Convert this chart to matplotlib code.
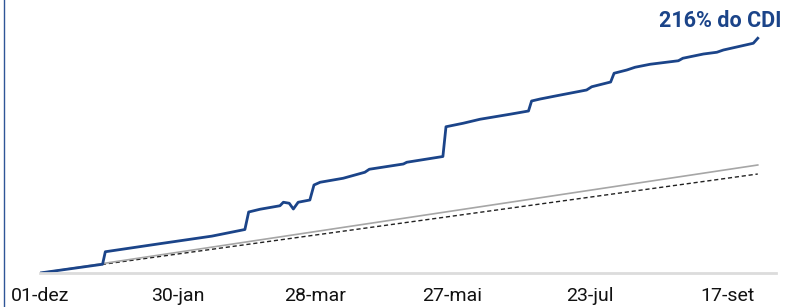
import matplotlib
matplotlib.use("Agg")
import matplotlib.pyplot as plt
from matplotlib.lines import Line2D

plt.rcParams["font.family"] = ["Roboto", "DejaVu Sans"]

# eixo x em dias úteis desde 01-dez, rótulos a cada 40 pregões
tick_pos = [0, 40, 80, 120, 160, 200]
tick_labels = ["01-dez", "30-jan", "28-mar", "27-mai", "23-jul", "17-set"]

# fundo (rentabilidade acumulada, %)
fundo_x = [0, 18.2, 19.0, 35.0, 50.0, 59.6, 60.7, 64.0, 69.8, 70.8, 72.5, 73.7,
           75.1, 78.5, 79.7, 81.5, 88.2, 94.5, 95.8, 105.7, 106.7, 117.2, 118.1,
           123.1, 128.0, 136.7, 142.1, 143.0, 145.5, 150.3, 159.0, 160.5, 166.0,
           167.0, 170.7, 173.1, 177.5, 185.7, 187.0, 193.0, 196.9, 198.8, 207.5,
           208.8]
fundo_y = [0, 0.70, 1.70, 2.35, 2.95, 3.48, 4.88, 5.10, 5.38, 5.66, 5.58, 5.12,
           5.66, 5.84, 7.04, 7.26, 7.58, 8.06, 8.30, 8.72, 8.86, 9.32, 11.70,
           11.98, 12.30, 12.70, 12.96, 13.76, 13.92, 14.18, 14.64, 14.90, 15.28,
           15.98, 16.24, 16.46, 16.70, 16.98, 17.18, 17.52, 17.66, 17.84, 18.38,
           18.78]

# CDI e referência tracejada
cdi_x = [0, 208.8]
cdi_y = [0, 8.64]
ref_x = [0, 208.8]
ref_y = [0, 7.92]

label_fundo = "216% do CDI"

azul = "#1b4489"

fig = plt.figure(figsize=(7.85, 3.07), dpi=100)
ax = fig.add_axes([40 / 785, 34 / 307, 736 / 785, 273 / 307])

ax.plot(ref_x, ref_y, color="#222222", lw=1.0, ls=(0, (3, 2)))
ax.plot(cdi_x, cdi_y, color="#a6a6a6", lw=1.2)
ax.plot(fundo_x, fundo_y, color=azul, lw=2.0)

ax.annotate(label_fundo, xy=(fundo_x[-1], fundo_y[-1]), xytext=(24, 11.5),
            textcoords="offset pixels", ha="right", va="baseline",
            color=azul, fontsize=15.5, fontweight="bold", annotation_clip=False)

ax.set_xlim(0, 214.1)
ax.set_ylim(0, 21.84)
ax.set_xticks(tick_pos)
ax.set_xticklabels(tick_labels, fontsize=14, color="#111111")
ax.tick_params(axis="x", length=0, pad=10)
ax.set_yticks([])

for s in ["left", "right", "top"]:
    ax.spines[s].set_visible(False)
ax.spines["bottom"].set_color("#dcdcdc")
ax.spines["bottom"].set_linewidth(2.0)

# borda azul à esquerda
fig.add_artist(Line2D([3.5 / 785, 3.5 / 785], [0, 1], color="#2f5597", lw=1.0))

fig.savefig("out.png", dpi=100)
